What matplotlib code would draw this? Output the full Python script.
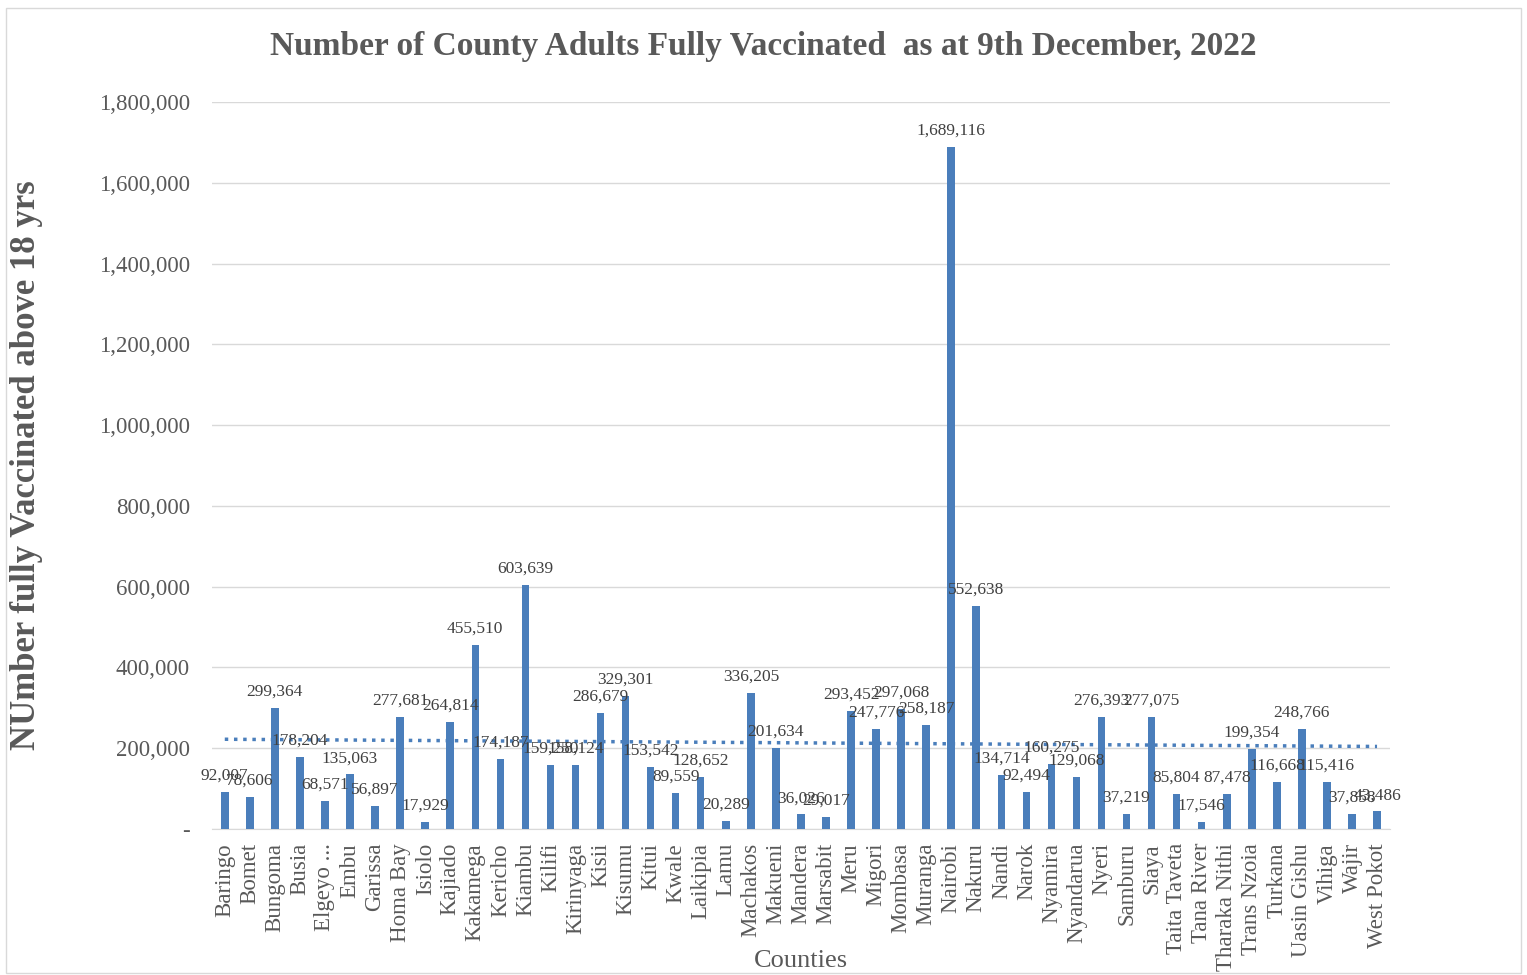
import numpy as np
import matplotlib.pyplot as plt

# Дані
counties = ['Baringo', 'Bomet', 'Bungoma', 'Busia', 'Elgeyo ...', 'Embu', 'Garissa',
            'Homa Bay', 'Isiolo', 'Kajiado', 'Kakamega', 'Kericho', 'Kiambu', 'Kilifi',
            'Kirinyaga', 'Kisii', 'Kisumu', 'Kitui', 'Kwale', 'Laikipia', 'Lamu',
            'Machakos', 'Makueni', 'Mandera', 'Marsabit', 'Meru', 'Migori', 'Mombasa',
            'Muranga', 'Nairobi', 'Nakuru', 'Nandi', 'Narok', 'Nyamira', 'Nyandarua',
            'Nyeri', 'Samburu', 'Siaya', 'Taita Taveta', 'Tana River', 'Tharaka Nithi',
            'Trans Nzoia', 'Turkana', 'Uasin Gishu', 'Vihiga', 'Wajir', 'West Pokot']
vaccinated = [92007, 78606, 299364, 178204, 68571, 135063, 56897,
              277681, 17929, 264814, 455510, 174187, 603639, 159250,
              158124, 286679, 329301, 153542, 89559, 128652, 20289,
              336205, 201634, 36026, 29017, 293452, 247776, 297068,
              258187, 1689116, 552638, 134714, 92494, 160275, 129068,
              276393, 37219, 277075, 85804, 17546, 87478,
              199354, 116668, 248766, 115416, 37858, 43486]
y_ticks = [0, 200000, 400000, 600000, 800000, 1000000, 1200000, 1400000, 1600000, 1800000]

plt.rcParams['font.family'] = ['Liberation Serif', 'DejaVu Serif']
grey = '#595959'
bar_color = '#4A7EBB'

fig = plt.figure(figsize=(15.27, 9.75), dpi=100)
ax = fig.add_axes([0.139, 0.1497, 0.771, 0.7457])

x = np.arange(len(counties))
ax.bar(x, vaccinated, width=0.3, color=bar_color, zorder=3)

# Лінія тренду (лінійна)
k, b = np.polyfit(x, vaccinated, 1)
ax.plot(x, k * x + b, linestyle=':', color=bar_color, linewidth=2.5, zorder=4)

# Підписи значень
for xi, v in zip(x, vaccinated):
    ax.annotate(f'{v:,}', (xi, v), xytext=(0, 6), textcoords='offset points',
                ha='center', va='bottom', fontsize=12.5, color='#404040', zorder=5)

ax.set_xlim(-0.5, len(counties) - 0.5)
ax.set_ylim(0, 1800000)
ax.set_yticks(y_ticks)
ax.set_yticklabels(['-'] + [f'{t:,}' for t in y_ticks[1:]])
ax.set_xticks(x)
ax.set_xticklabels(counties, rotation=90)
ax.tick_params(axis='both', length=0, colors=grey, labelsize=16.5)
ax.tick_params(axis='y', pad=16)
ax.tick_params(axis='x', pad=10)
ax.grid(axis='y', color='#D9D9D9', linewidth=1, zorder=0)
for s in ['top', 'right', 'left']:
    ax.spines[s].set_visible(False)
ax.spines['bottom'].set_color('#D9D9D9')

fig.text(0.5, 0.952, 'Number of County Adults Fully Vaccinated  as at 9th December, 2022',
         fontsize=24, fontweight='bold', color=grey, ha='center', va='center')
fig.text(801 / 1527, 1 - 961 / 975, 'Counties', fontsize=19, color=grey,
         ha='center', va='center')
ax.set_ylabel('NUmber fully Vaccinated above 18 yrs', fontsize=25, fontweight='bold',
              color=grey, labelpad=40)

# Рамка навколо рисунка
fig.patches.append(plt.Rectangle((0.004, 0.002), 0.992, 0.99, transform=fig.transFigure,
                                 fill=False, edgecolor='#D9D9D9', linewidth=1))

plt.savefig('out.png', dpi=100)
